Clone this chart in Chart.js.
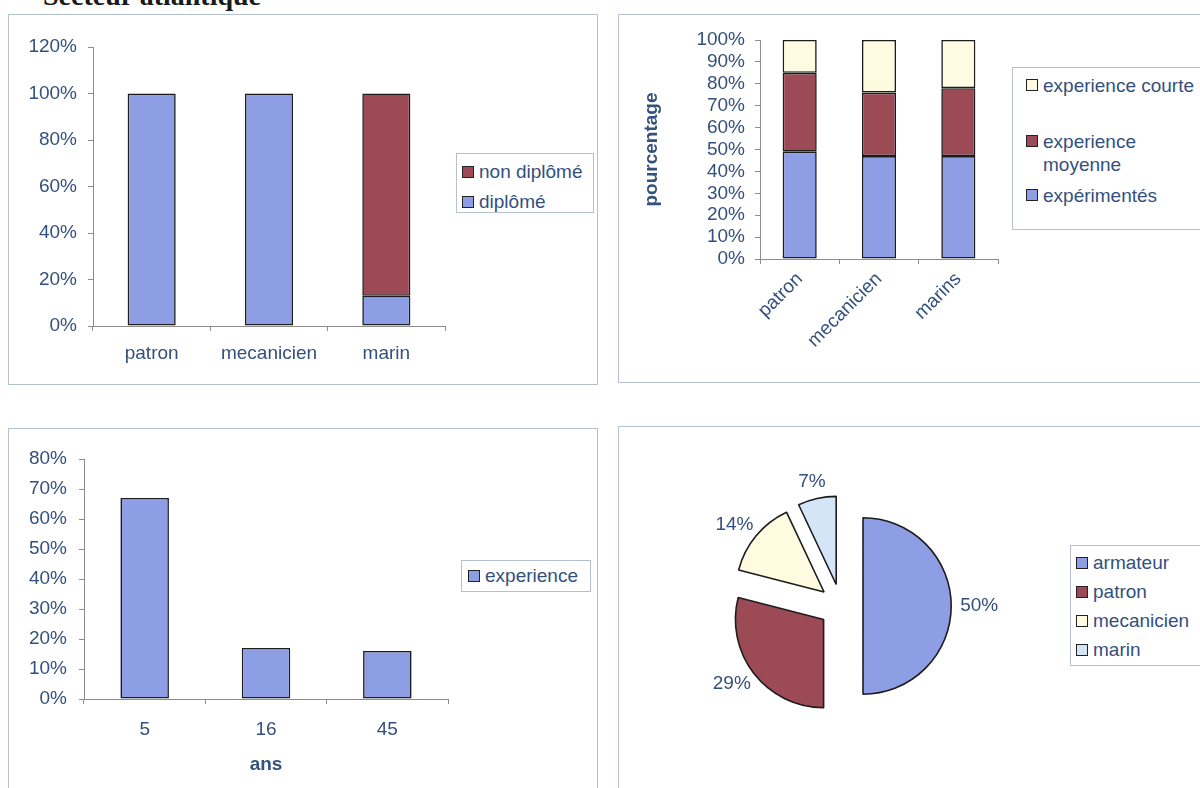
<!DOCTYPE html>
<html>
<head>
<meta charset="utf-8">
<script src="https://cdn.jsdelivr.net/npm/chart.js"></script>
<style>
body { margin: 0; background: #fff; width: 1200px; height: 788px; overflow: hidden; position: relative;
       font-family: "Liberation Sans", Arial, sans-serif; color: #33507e; }
.panel { position: absolute; border: 1px solid #b5c0d0; box-sizing: border-box; }
canvas { position: absolute; }
.legend { position: absolute; border: 1px solid #b5c0d0; background: #fff; box-sizing: border-box; font-size: 19px; line-height: 22px; }
.item { display: flex; align-items: flex-start; }
.sw { flex: none; width: 10px; height: 10px; border: 1.5px solid #222; margin: 5px 5px 0 0; }
#title { position: absolute; left: 43px; top: -20px; font: bold 28px "Liberation Serif", serif; color: #1a1a1a; }
#lg1 { left: 456px; top: 153px; width: 138px; height: 60px; padding: 7px 0 0 5px; }
#lg1 .item + .item { margin-top: 8px; }
#lg2 { left: 1012px; top: 67px; width: 200px; height: 163px; padding: 6px 0 0 13px; line-height: 23px; }
#lg2 .item span:last-child { max-width: 162px; }
#lg2 .item:nth-child(2) { margin-top: 33px; }
#lg2 .item:nth-child(3) { margin-top: 8px; }
#lg3 { left: 461px; top: 560px; width: 130px; height: 32px; padding: 4px 0 0 6px; }
#lg4 { left: 1070px; top: 545px; width: 140px; height: 121px; padding: 6px 0 0 5px; }
#lg4 .item + .item { margin-top: 7px; }
</style>
</head>
<body>
<div id="title">Secteur atlantique</div>

<div class="panel" style="left:8px;top:14px;width:590px;height:371px"></div>
<div class="panel" style="left:618px;top:14px;width:600px;height:369px"></div>
<div class="panel" style="left:8px;top:428px;width:590px;height:380px"></div>
<div class="panel" style="left:618px;top:426px;width:600px;height:380px"></div>

<canvas id="c1" width="592" height="371" style="left:8px;top:14px"></canvas>
<canvas id="c2" width="582" height="369" style="left:618px;top:14px"></canvas>
<canvas id="c3" width="592" height="360" style="left:8px;top:428px"></canvas>
<canvas id="c4" width="582" height="360" style="left:618px;top:428px"></canvas>

<div class="legend" id="lg1"></div>
<div class="legend" id="lg2"></div>
<div class="legend" id="lg3"></div>
<div class="legend" id="lg4"></div>

<script>
// diplômes par poste
const diplomeCats = ['patron', 'mecanicien', 'marin'];
const diplome = [100, 100, 13];
const nonDiplome = [0, 0, 87];

// expérience par poste (%)
const expCats = ['patron', 'mecanicien', 'marins'];
const experimentes = [49, 47, 47];
const expMoyenne = [36, 29, 31];
const expCourte = [15, 24, 22];

// expérience en années
const ansCats = ['5', '16', '45'];
const experience = [67, 17, 16];

// répartition
const pieCats = ['armateur', 'patron', 'mecanicien', 'marin'];
const pieVals = [50, 29, 14, 7];

const BLUE = '#8e9ee4';
const RED = '#9c4a55';
const YELLOW = '#fffbe0';
const PALE = '#d4e5f7';
const EDGE = '#1c1c1c';
const AXIS = '#8c8c8c';
const TEXT = '#33507e';

Chart.defaults.font.family = '"Liberation Sans", Arial, sans-serif';
Chart.defaults.font.size = 19;
Chart.defaults.color = TEXT;
Chart.defaults.animation = false;
Chart.defaults.plugins.legend.display = false;
Chart.defaults.plugins.tooltip.enabled = false;

const pct = v => v + '%';

function xAxis(height, padding, extra) {
    return Object.assign({
        stacked: true,
        grid: { drawOnChartArea: false, tickLength: 5, color: AXIS },
        border: { color: AXIS },
        ticks: { padding: padding, autoSkip: false, maxRotation: 0 },
        afterFit(s) { s.height = height; }
    }, extra || {});
}

function yAxis(width, max, step, padding, extra) {
    return Object.assign({
        stacked: true, min: 0, max: max,
        grid: { drawOnChartArea: false, tickLength: 5, color: AXIS },
        border: { color: AXIS },
        ticks: { stepSize: step, callback: pct, padding: padding, autoSkip: false, font: { lineHeight: 1 } },
        afterFit(s) { s.width = width; }
    }, extra || {});
}

const barStyle = { borderColor: EDGE, borderWidth: 1.6, borderSkipped: false };

function buildLegend(id, items) {
    const box = document.getElementById(id);
    items.forEach(it => {
        box.insertAdjacentHTML('beforeend',
            '<div class="item"><span class="sw" style="background:' + it.color + '"></span><span>' + it.text + '</span></div>');
    });
}
const seriesItems = chart => chart.data.datasets.map(d => ({ text: d.label, color: d.backgroundColor }));

// 1. diplômés / non diplômés
const chart1 = new Chart(document.getElementById('c1'), {
    type: 'bar',
    data: {
        labels: diplomeCats,
        datasets: [
            Object.assign({ label: 'diplômé', data: diplome, backgroundColor: BLUE }, barStyle),
            Object.assign({ label: 'non diplômé', data: nonDiplome, backgroundColor: RED }, barStyle)
        ]
    },
    options: {
        responsive: false,
        layout: { padding: { top: 33, right: 155, left: 0, bottom: 0 } },
        datasets: { bar: { barPercentage: 0.41, categoryPercentage: 1 } },
        scales: { x: xAxis(59, 11), y: yAxis(85, 120, 20, 11) }
    }
});
buildLegend('lg1', seriesItems(chart1).reverse());

// 2. niveau d'expérience
const chart2 = new Chart(document.getElementById('c2'), {
    type: 'bar',
    data: {
        labels: expCats,
        datasets: [
            Object.assign({ label: 'expérimentés', data: experimentes, backgroundColor: BLUE }, barStyle),
            Object.assign({ label: 'experience moyenne', data: expMoyenne, backgroundColor: RED }, barStyle),
            Object.assign({ label: 'experience courte', data: expCourte, backgroundColor: YELLOW }, barStyle)
        ]
    },
    options: {
        responsive: false,
        layout: { padding: { top: 26, right: 202, left: 0, bottom: 0 } },
        datasets: { bar: { barPercentage: 0.43, categoryPercentage: 1 } },
        scales: {
            x: xAxis(124, 4, {}),
            y: yAxis(142, 100, 10, 10, {
                title: { display: true, text: 'pourcentage', font: { weight: 'bold' }, padding: { top: 22, bottom: 0 } }
            })
        }
    }
});
chart2.options.scales.x.ticks.minRotation = 45;
chart2.options.scales.x.ticks.maxRotation = 45;
chart2.update();
buildLegend('lg2', seriesItems(chart2).reverse());

// 3. expérience en années
const chart3 = new Chart(document.getElementById('c3'), {
    type: 'bar',
    data: {
        labels: ansCats,
        datasets: [Object.assign({ label: 'experience', data: experience, backgroundColor: BLUE }, barStyle)]
    },
    options: {
        responsive: false,
        layout: { padding: { top: 31, right: 152, left: 0, bottom: 0 } },
        datasets: { bar: { barPercentage: 0.40, categoryPercentage: 1 } },
        scales: {
            x: xAxis(89, 14, {
                title: { display: true, text: 'ans', font: { weight: 'bold' }, padding: { top: 0, bottom: 12 } }
            }),
            y: yAxis(76, 80, 10, 12)
        }
    }
});
buildLegend('lg3', seriesItems(chart3));

// 4. camembert éclaté
const EXPLODE = 22;
const explodedPie = {
    id: 'explodedPie',
    beforeDatasetDraw(chart, args) {
        const ctx = chart.ctx;
        args.meta.data.forEach(arc => {
            const mid = (arc.startAngle + arc.endAngle) / 2;
            ctx.save();
            ctx.translate(Math.cos(mid) * EXPLODE, Math.sin(mid) * EXPLODE);
            arc.draw(ctx);
            ctx.restore();
        });
        return false;
    },
    afterDatasetsDraw(chart) {
        const ctx = chart.ctx;
        ctx.save();
        ctx.font = '19px "Liberation Sans", Arial, sans-serif';
        ctx.fillStyle = TEXT;
        ctx.textAlign = 'center';
        ctx.textBaseline = 'middle';
        chart.getDatasetMeta(0).data.forEach((arc, i) => {
            const mid = (arc.startAngle + arc.endAngle) / 2;
            const dx = Math.cos(mid), dy = Math.sin(mid);
            const txt = pieVals[i] + '%';
            const hw = ctx.measureText(txt).width / 2;
            const r = EXPLODE + arc.outerRadius + 9;
            ctx.fillText(txt, arc.x + dx * r + dx * hw, arc.y + dy * r + dy * 8);
        });
        ctx.restore();
    }
};

const chart4 = new Chart(document.getElementById('c4'), {
    type: 'pie',
    data: {
        labels: pieCats,
        datasets: [{
            data: pieVals,
            backgroundColor: [BLUE, RED, YELLOW, PALE],
            borderColor: EDGE,
            borderWidth: 1.6,
            hoverOffset: 0,
            clip: false
        }]
    },
    options: {
        responsive: false,
        layout: { padding: { left: 134, top: 89, right: 270, bottom: 93 } }
    },
    plugins: [explodedPie]
});
buildLegend('lg4', pieCats.map((c, i) => ({ text: c, color: chart4.data.datasets[0].backgroundColor[i] })));
</script>
</body>
</html>
